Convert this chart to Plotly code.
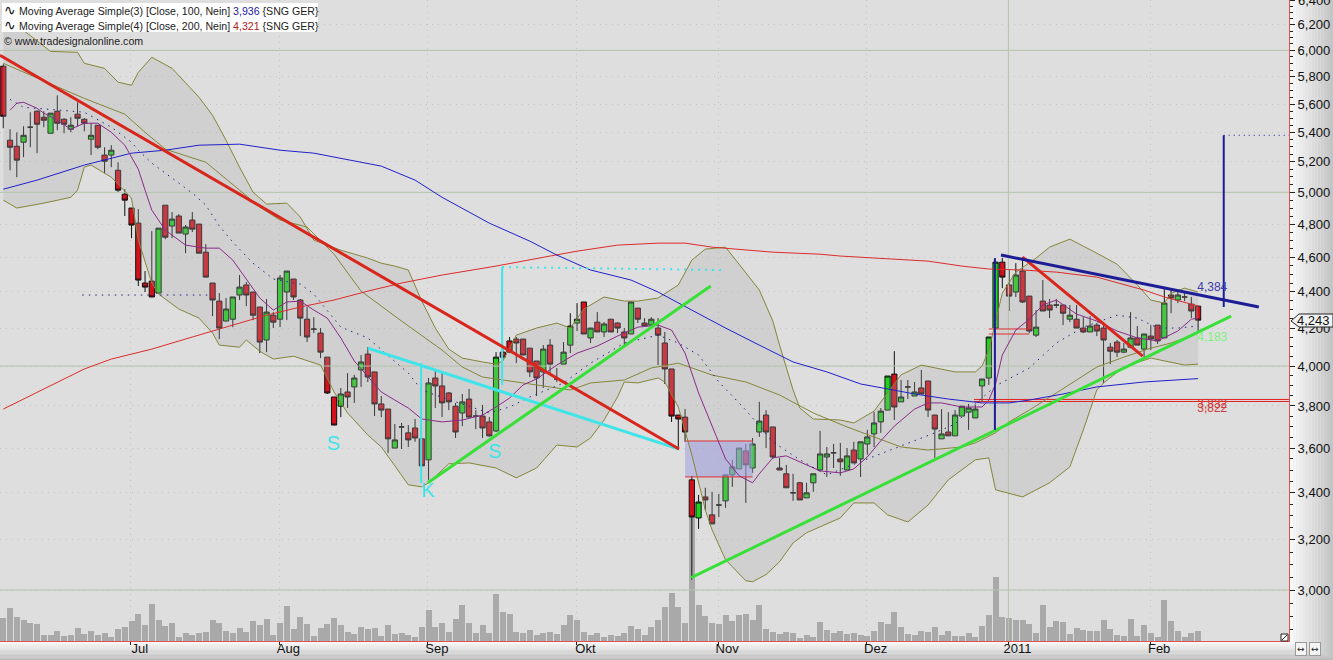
import plotly.graph_objects as go

# candles, one per trading day (SNG GER, Jun 2010 - Feb 2011)
open_prices = [
    5879, 5346, 5305, 5332, 5436, 5549, 5506, 5394, 5549, 5492,
    5422, 5528, 5492, 5353, 5450, 5245, 5245, 5144, 4988, 4900,
    4806, 4450, 4461, 4393, 4918, 4788, 4850, 4739, 4825, 4800,
    4630, 4450, 4348, 4238, 4248, 4382, 4439, 4399, 4315, 4136,
    4270, 4248, 4399, 4473, 4354, 4248, 4194, 4173, 4046, 3844,
    3799, 3869, 3894, 3980, 4062, 3970, 3810, 3785, 3600, 3699,
    3671, 3694, 3643, 3546, 3939, 3899, 3864, 3799, 3766, 3834,
    3751, 3751, 3723, 3680, 4072, 4131, 4141, 4141, 4093, 4026,
    3970, 4109, 3934, 4010, 4109, 4227, 4343, 4147, 4232, 4179,
    4248, 4227, 4179, 4168, 4309, 4227, 4216, 4200, 4120, 3985,
    3756, 3746, 3456, 3291, 3381, 3304, 3346, 3364, 3478, 3505,
    3587, 3509, 3675, 3756, 3699, 3509, 3483, 3399, 3443, 3377,
    3443, 3500, 3559, 3578, 3550, 3500, 3591, 3550, 3619, 3666,
    3723, 3780, 3959, 3820, 3894, 3849, 3889, 3924, 3756, 3643,
    3675, 3657, 3751, 3770, 3742, 3899, 3939, 4200, 4571, 4439,
    4399, 4519, 4376, 4162, 4348, 4326, 4326, 4326, 4248, 4248,
    4200, 4179, 4216, 4200, 4098, 4125, 4072, 4098, 4147, 4088,
    4157, 4216, 4147, 4382, 4354, 4371, 4331, 4320,
]
high_prices = [
    5894, 5422, 5401, 5443, 5542, 5556, 5549, 5535, 5663, 5499,
    5506, 5613, 5499, 5464, 5450, 5298, 5312, 5197, 5020, 4900,
    4893, 4519, 4757, 4775, 4918, 4875, 4862, 4794, 4875, 4800,
    4678, 4450, 4393, 4365, 4371, 4496, 4456, 4399, 4315, 4360,
    4287, 4496, 4519, 4473, 4360, 4315, 4259, 4200, 4046, 3844,
    3889, 3964, 3955, 4057, 4098, 3970, 3849, 3785, 3713, 3718,
    3708, 3737, 3643, 3939, 3975, 3964, 3869, 3815, 3859, 3884,
    3780, 3805, 3746, 4072, 4088, 4152, 4152, 4141, 4093, 4026,
    4109, 4141, 3990, 4125, 4281, 4337, 4343, 4200, 4287, 4232,
    4248, 4232, 4200, 4348, 4309, 4254, 4259, 4254, 4179, 3985,
    3756, 3785, 3474, 3390, 3421, 3403, 3394, 3478, 3546, 3600,
    3619, 3647, 3820, 3780, 3699, 3555, 3523, 3483, 3447, 3443,
    3483, 3680, 3605, 3619, 3624, 3600, 3629, 3629, 3685, 3770,
    3790, 3949, 4077, 3929, 3929, 3919, 3980, 3924, 3756, 3785,
    3770, 3780, 3799, 3810, 3805, 3934, 4152, 4577, 4595, 4525,
    4565, 4601, 4376, 4298, 4467, 4360, 4360, 4326, 4326, 4326,
    4259, 4265, 4227, 4227, 4120, 4136, 4120, 4287, 4211, 4168,
    4216, 4216, 4415, 4410, 4410, 4393, 4371, 4320,
]
low_prices = [
    5429, 5144, 5098, 5231, 5298, 5258, 5436, 5394, 5415, 5394,
    5401, 5443, 5408, 5245, 5285, 5124, 5164, 5001, 4850, 4714,
    4433, 4399, 4371, 4393, 4708, 4714, 4745, 4624, 4751, 4624,
    4484, 4265, 4141, 4238, 4205, 4354, 4320, 4243, 4067, 4072,
    4200, 4205, 4243, 4354, 4157, 4125, 4173, 4041, 3859, 3708,
    3746, 3790, 3815, 3894, 3919, 3751, 3746, 3578, 3600, 3596,
    3605, 3629, 3519, 3456, 3790, 3746, 3780, 3647, 3703, 3742,
    3689, 3647, 3652, 3675, 4031, 4067, 4015, 4057, 3944, 3849,
    3889, 3959, 3919, 4010, 4067, 4184, 4168, 4120, 4179, 4152,
    4179, 4173, 4109, 4168, 4227, 4211, 4216, 4005, 3909, 3723,
    3591, 3629, 3040, 3245, 3325, 3266, 3295, 3334, 3425, 3505,
    3355, 3487, 3652, 3600, 3550, 3500, 3421, 3364, 3368, 3377,
    3403, 3492, 3469, 3509, 3474, 3500, 3532, 3469, 3569, 3605,
    3671, 3780, 3732, 3820, 3834, 3849, 3859, 3746, 3555, 3643,
    3657, 3657, 3751, 3685, 3742, 3820, 3904, 4200, 4421, 4293,
    4371, 4337, 4173, 4152, 4293, 4254, 4309, 4216, 4232, 4200,
    4173, 4179, 4157, 3914, 4010, 4046, 4067, 4093, 4109, 4046,
    4083, 4115, 4147, 4281, 4337, 4348, 4254, 4179,
]
close_prices = [
    5513, 5298, 5211, 5380, 5436, 5457, 5485, 5535, 5464, 5457,
    5450, 5499, 5464, 5380, 5298, 5204, 5278, 5014, 4950, 4794,
    4467, 4427, 4371, 4775, 4720, 4831, 4745, 4782, 4769, 4624,
    4484, 4354, 4200, 4304, 4371, 4427, 4382, 4270, 4125, 4287,
    4232, 4479, 4519, 4371, 4254, 4152, 4194, 4072, 3864, 3708,
    3859, 3844, 3939, 4021, 3944, 3810, 3780, 3643, 3638, 3699,
    3638, 3647, 3519, 3914, 3899, 3815, 3820, 3675, 3820, 3746,
    3751, 3694, 3657, 4046, 4046, 4072, 4120, 4057, 3970, 3939,
    4088, 4010, 3934, 4072, 4211, 4248, 4168, 4200, 4179, 4222,
    4179, 4200, 4147, 4343, 4248, 4211, 4248, 4162, 3985, 3751,
    3737, 3675, 3295, 3359, 3368, 3266, 3346, 3478, 3514, 3600,
    3523, 3619, 3727, 3675, 3559, 3500, 3421, 3399, 3368, 3399,
    3483, 3573, 3573, 3578, 3537, 3564, 3532, 3629, 3652, 3718,
    3775, 3949, 3795, 3844, 3894, 3869, 3859, 3780, 3689, 3666,
    3657, 3756, 3799, 3790, 3785, 3934, 4152, 4571, 4484, 4376,
    4496, 4343, 4184, 4205, 4293, 4298, 4326, 4281, 4270, 4200,
    4179, 4211, 4184, 4136, 4077, 4072, 4088, 4147, 4109, 4168,
    4141, 4131, 4337, 4365, 4382, 4371, 4293, 4243,
]
volume = [
    68, 98, 72, 62, 55, 51, 18, 18, 30, 15,
    17, 38, 20, 30, 17, 23, 12, 35, 42, 60,
    81, 48, 111, 62, 45, 54, 12, 24, 18, 23,
    27, 62, 54, 30, 24, 39, 27, 60, 48, 66,
    18, 54, 105, 36, 72, 51, 15, 39, 51, 69,
    48, 27, 21, 42, 36, 39, 15, 48, 21, 24,
    18, 12, 42, 93, 42, 54, 27, 66, 108, 54,
    24, 48, 24, 141, 87, 81, 27, 24, 33, 18,
    24, 27, 21, 48, 78, 63, 27, 18, 24, 12,
    18, 15, 24, 45, 36, 18, 42, 63, 102, 144,
    102, 54, 372, 108, 75, 54, 51, 78, 60, 78,
    81, 63, 108, 36, 27, 21, 27, 24, 9, 18,
    12, 57, 33, 24, 30, 21, 24, 18, 15, 30,
    57, 51, 87, 42, 21, 18, 30, 27, 42, 18,
    30, 15, 15, 24, 12, 45, 78, 192, 72, 69,
    63, 63, 51, 24, 108, 42, 60, 57, 21, 39,
    33, 30, 30, 63, 36, 18, 15, 66, 15, 48,
    24, 12, 123, 60, 30, 12, 24, 30,
]
candle_index = list(range(len(close_prices)))

# moving averages at the listed candles
ma200_index = [0, 12, 16, 22, 28, 34, 39, 44, 49, 54, 59, 65, 73, 81, 85, 91, 97, 101, 105, 114, 121, 124, 131, 137, 142, 146, 151, 156, 162, 166, 169, 172, 177]
ma200_value = [3785, 3985, 4036, 4088, 4152, 4216, 4270, 4315, 4354, 4404, 4450, 4496, 4548, 4607, 4636, 4672, 4684, 4684, 4660, 4630, 4618, 4607, 4589, 4577, 4548, 4531, 4525, 4513, 4484, 4444, 4410, 4371, 4321]

ma100_index = [0, 5, 12, 19, 24, 29, 35, 41, 46, 56, 61, 65, 72, 78, 82, 87, 93, 97, 102, 107, 112, 117, 122, 127, 131, 135, 140, 145, 149, 152, 157, 162, 169, 177]
ma100_value = [5020, 5079, 5178, 5258, 5278, 5312, 5319, 5278, 5258, 5171, 5079, 4968, 4806, 4696, 4613, 4525, 4467, 4399, 4298, 4200, 4109, 4021, 3970, 3909, 3884, 3859, 3834, 3815, 3815, 3829, 3859, 3894, 3919, 3936]

ma20_index = [1, 2, 3, 5, 6, 8, 10, 12, 14, 16, 18, 20, 21, 22, 24, 27, 30, 32, 34, 36, 38, 40, 42, 44, 46, 48, 50, 52, 54, 56, 58, 60, 62, 65, 68, 71, 73, 75, 77, 79, 82, 85, 88, 91, 94, 97, 99, 101, 103, 105, 107, 109, 111, 112, 114, 116, 119, 121, 124, 126, 128, 130, 132, 135, 137, 139, 142, 145, 146, 147, 148, 150, 152, 154, 156, 159, 162, 165, 168, 171, 174, 176, 177]
ma20_value = [5556, 5606, 5613, 5570, 5535, 5485, 5422, 5464, 5464, 5401, 5312, 5151, 5014, 4887, 4763, 4672, 4654, 4654, 4583, 4473, 4365, 4298, 4343, 4348, 4298, 4254, 4147, 4026, 3944, 3869, 3829, 3790, 3737, 3723, 3732, 3756, 3795, 3839, 3904, 3934, 4005, 4067, 4104, 4157, 4205, 4216, 4189, 4067, 3864, 3703, 3550, 3474, 3443, 3483, 3555, 3564, 3523, 3496, 3487, 3505, 3559, 3634, 3703, 3785, 3815, 3815, 3795, 3795, 3829, 3909, 4057, 4189, 4248, 4326, 4354, 4276, 4238, 4184, 4147, 4131, 4184, 4248, 4254]

ma50_index = [1, 3, 12, 16, 19, 20, 22, 25, 28, 30, 32, 34, 37, 40, 44, 46, 48, 50, 54, 57, 60, 62, 64, 72, 75, 78, 83, 87, 92, 97, 100, 103, 106, 110, 114, 118, 122, 128, 133, 138, 141, 143, 147, 152, 156, 160, 165, 168, 171, 174, 177]
ma50_value = [5634, 5577, 5542, 5436, 5332, 5278, 5191, 5092, 4995, 4918, 4788, 4690, 4565, 4473, 4444, 4387, 4298, 4205, 4147, 4057, 3964, 3879, 3854, 3766, 3795, 3844, 3914, 4015, 4120, 4162, 4120, 4057, 3919, 3780, 3629, 3546, 3478, 3550, 3610, 3671, 3713, 3780, 3899, 3990, 4120, 4205, 4270, 4254, 4200, 4200, 4211]

# bollinger band
upper_index = [0, 3, 4, 7, 11, 12, 15, 17, 19, 20, 22, 25, 29, 31, 33, 35, 37, 39, 42, 44, 46, 50, 54, 56, 58, 60, 62, 64, 66, 68, 71, 73, 74, 76, 79, 82, 84, 86, 89, 92, 94, 97, 100, 102, 104, 107, 109, 112, 114, 115, 117, 118, 120, 124, 126, 129, 131, 133, 136, 138, 141, 144, 145, 146, 147, 148, 150, 153, 155, 158, 162, 165, 168, 170, 172, 173, 175, 177]
upper_value = [6232, 6154, 6115, 5992, 5985, 5901, 5863, 5760, 5737, 5833, 5947, 5863, 5649, 5520, 5346, 5164, 5001, 4925, 4931, 4844, 4702, 4642, 4595, 4565, 4548, 4525, 4348, 4200, 4088, 4041, 4021, 4010, 4026, 4162, 4200, 4227, 4200, 4304, 4371, 4348, 4348, 4365, 4439, 4583, 4648, 4660, 4559, 4410, 4238, 4109, 3879, 3790, 3737, 3732, 3718, 3775, 3864, 3955, 4005, 3990, 3970, 3970, 4000, 4083, 4227, 4393, 4513, 4595, 4660, 4708, 4624, 4559, 4439, 4354, 4337, 4393, 4421, 4399]

middle_index = [0, 5, 12, 18, 21, 24, 30, 35, 38, 41, 45, 49, 53, 59, 65, 68, 71, 74, 79, 84, 87, 92, 96, 100, 105, 110, 115, 120, 125, 130, 133, 137, 142, 144, 147, 149, 152, 156, 159, 162, 166, 170, 173, 177]
middle_value = [5901, 5789, 5641, 5528, 5401, 5285, 5197, 5014, 4906, 4825, 4782, 4618, 4404, 4238, 4083, 3995, 3944, 3929, 3904, 3879, 3914, 3929, 3990, 4015, 3954, 3919, 3854, 3766, 3699, 3638, 3605, 3591, 3605, 3624, 3671, 3723, 3780, 3864, 3929, 3995, 4046, 4093, 4120, 4173]

lower_index = [0, 2, 6, 10, 11, 12, 13, 16, 19, 20, 22, 23, 26, 29, 31, 32, 35, 36, 38, 40, 43, 46, 47, 49, 51, 54, 56, 58, 60, 62, 63, 66, 69, 73, 76, 79, 81, 82, 85, 87, 89, 91, 92, 94, 97, 98, 100, 102, 104, 105, 107, 110, 111, 113, 115, 117, 119, 124, 126, 129, 131, 134, 137, 140, 144, 146, 147, 151, 155, 158, 160, 162, 163, 166, 170, 175, 177]
lower_value = [4950, 4900, 4931, 4968, 5014, 5164, 5178, 5098, 4962, 4702, 4450, 4387, 4304, 4254, 4173, 4109, 4098, 4136, 4077, 4036, 4051, 4015, 4005, 3869, 3766, 3661, 3605, 3519, 3434, 3425, 3443, 3528, 3532, 3509, 3465, 3509, 3582, 3614, 3605, 3647, 3732, 3844, 3919, 3914, 3939, 3919, 3795, 3569, 3325, 3241, 3119, 3036, 3032, 3060, 3111, 3187, 3229, 3291, 3355, 3355, 3304, 3274, 3346, 3456, 3546, 3555, 3412, 3381, 3443, 3514, 3685, 3879, 3914, 3995, 4041, 4005, 4010]

# hand drawn trend lines: [start, end] in candle index and price
red_trend_x, red_trend_y = [-0.5, 100.1], [5962, 3596]
red_short_x, red_short_y = [151, 168.8], [4601, 4051]
cyan_trend_x, cyan_trend_y = [54, 100], [4093, 3596]
cyan_left_x, cyan_left_y = [61.9, 61.9], [4015, 3443]
cyan_right_x, cyan_right_y = [73.9, 73.9], [4542, 3904]
cyan_dot_x, cyan_dot_y = [73.9, 106.4], [4542, 4525]
green_upper_x, green_upper_y = [62.9, 104.8], [3443, 4433]
green_lower_x, green_lower_y = [101.9, 181.9], [3048, 4265]
navy_trend_x, navy_trend_y = [147.8, 186], [4613, 4315]
navy_left_x, navy_left_y = [146.9, 146.9], [4595, 3685]
navy_right_x, navy_right_y = [180.8, 180.8], [5380, 4315]
navy_dot_x, navy_dot_y = [180.8, 190.5], [5380, 5380]
dark_dot_x, dark_dot_y = [11.7, 30.4], [4382, 4382]
gap_x, gap_top, gap_bottom = [101, 111], 3633, 3469
gap2_x, gap2_top, gap2_bottom = [146, 152], 4195, 4168
support_x, support_levels = [143.8, 190.5], [3832, 3822]

# chart labels: text, candle index, price
letter_text = ["S", "S", "K"]
letter_x = [48.9, 72.8, 62.9]
letter_y = [3614, 3578, 3403]
value_text = ["4,384", "4,183", "3,832", "3,822"]
value_x = [179.1, 179.1, 179.1, 179.1]
value_y = [4421, 4147, 3805, 3785]
value_color = ["#3c3caa", "#7ff07f", "#d23c3c", "#d23c3c"]

# axes
price_ticks = [3000, 3200, 3400, 3600, 3800, 4000, 4200, 4400, 4600, 4800, 5000, 5200, 5400, 5600, 5800, 6000, 6200, 6400]
price_tick_text = ["3,000", "3,200", "3,400", "3,600", "3,800", "4,000", "4,200", "4,400", "4,600", "4,800", "5,000", "5,200", "5,400", "5,600", "5,800", "6,000", "6,200", "6,400"]
price_minor_ticks = [p for p in range(2850, 6400, 50) if p % 200 != 0]
price_major_lines = [3000, 4000, 5000, 6000]
month_ticks = [18.9, 40.9, 62.9, 84.9, 105.9, 127.9, 148.9, 169.9]
month_labels = ["Jul", "Aug", "Sep", "Okt", "Nov", "Dez", "2011", "Feb"]

WIDTH, HEIGHT = 1333, 660
PLOT_W, PLOT_H = 1289, 641
BG = "#dedede"
OLIVE = "#85853a"
RED = "#d8261c"
CYAN = "#3fe4e8"
GREEN = "#37e037"
NAVY = "#1c1c96"
FINE_DOT = "1px,5px"
AXIS_FONT = "Liberation Sans Narrow, Liberation Sans"


def px(x):
    return x / PLOT_W


def py(y):
    return 1 - y / PLOT_H


def line_trace(x, y, color, width=1, dash="solid"):
    return go.Scatter(
        x=x, y=y, yaxis="y2", mode="lines", hoverinfo="skip", showlegend=False,
        line=dict(color=color, width=width, dash=dash),
    )


fig = go.Figure()

fig.add_trace(go.Bar(
    x=candle_index, y=volume, width=0.88, marker=dict(color="#a9a9a9", line_width=0),
    showlegend=False, hoverinfo="skip",
))

# band fill behind the candles
fig.add_trace(go.Scatter(
    x=upper_index + lower_index[::-1], y=upper_value + lower_value[::-1], yaxis="y2",
    mode="none", fill="toself", fillcolor="rgba(170,170,170,0.27)",
    showlegend=False, hoverinfo="skip",
))

for level in price_major_lines:
    fig.add_trace(line_trace([-1, 191], [level, level], "#b4c4ac"))
fig.add_trace(line_trace([148.9, 148.9], [2800, 6500], "#b4c4ac"))

# gap boxes
fig.add_trace(go.Scatter(
    x=[gap_x[0], gap_x[1], gap_x[1], gap_x[0], gap_x[0]],
    y=[gap_top, gap_top, gap_bottom, gap_bottom, gap_top], yaxis="y2",
    mode="none", fill="toself", fillcolor="rgba(160,160,225,0.55)",
    showlegend=False, hoverinfo="skip",
))
for level in [gap_top, gap_bottom]:
    fig.add_trace(line_trace(gap_x, [level, level], "#e03030"))
for level in [gap2_top, gap2_bottom]:
    fig.add_trace(line_trace(gap2_x, [level, level], "#e03030"))
for level in support_levels:
    fig.add_trace(line_trace(support_x, [level, level], "#e02020"))

fig.add_trace(go.Candlestick(
    x=candle_index, open=open_prices, high=high_prices, low=low_prices, close=close_prices,
    yaxis="y2", whiskerwidth=0, showlegend=False, hoverinfo="skip",
    increasing=dict(fillcolor="#1ed21e", line=dict(color="#101010", width=1)),
    decreasing=dict(fillcolor="#d4101c", line=dict(color="#101010", width=1)),
))

fig.add_trace(line_trace(upper_index, upper_value, OLIVE))
fig.add_trace(line_trace(middle_index, middle_value, OLIVE))
fig.add_trace(line_trace(lower_index, lower_value, OLIVE))
fig.add_trace(line_trace(ma200_index, ma200_value, "#dc2c2c"))
fig.add_trace(line_trace(ma100_index, ma100_value, "#2020cc"))
fig.add_trace(line_trace(ma20_index, ma20_value, "#8a2a8a"))
fig.add_trace(line_trace(ma50_index, ma50_value, "#24248c", dash="1.5px,5px"))

fig.add_trace(line_trace(dark_dot_x, dark_dot_y, "#24248c", dash="1.5px,5px"))
fig.add_trace(line_trace(cyan_trend_x, cyan_trend_y, CYAN, 3))
fig.add_trace(line_trace(cyan_left_x, cyan_left_y, CYAN, 2))
fig.add_trace(line_trace(cyan_right_x, cyan_right_y, CYAN, 2))
fig.add_trace(line_trace(cyan_dot_x, cyan_dot_y, CYAN, 2, dash="2px,5px"))
fig.add_trace(line_trace(red_trend_x, red_trend_y, RED, 3))
fig.add_trace(line_trace(red_short_x, red_short_y, RED, 3))
fig.add_trace(line_trace(green_upper_x, green_upper_y, GREEN, 3))
fig.add_trace(line_trace(green_lower_x, green_lower_y, GREEN, 3))
fig.add_trace(line_trace(navy_trend_x, navy_trend_y, NAVY, 3))
fig.add_trace(line_trace(navy_left_x, navy_left_y, NAVY, 2))
fig.add_trace(line_trace(navy_right_x, navy_right_y, NAVY, 2))
fig.add_trace(line_trace(navy_dot_x, navy_dot_y, NAVY, 1, dash="1px,4px"))

fig.add_trace(go.Scatter(
    x=letter_x, y=letter_y, yaxis="y2", mode="text", text=letter_text,
    textfont=dict(family="Liberation Sans", size=20, color=CYAN),
    showlegend=False, hoverinfo="skip",
))
fig.add_trace(go.Scatter(
    x=value_x, y=value_y, yaxis="y2", mode="text", text=value_text,
    textfont=dict(family="Liberation Sans", size=12, color=value_color),
    showlegend=False, hoverinfo="skip",
))

fig.update_layout(
    width=WIDTH,
    height=HEIGHT,
    margin=dict(l=0, r=WIDTH - PLOT_W, t=0, b=HEIGHT - PLOT_H, autoexpand=False),
    plot_bgcolor=BG,
    paper_bgcolor="#f0f0f0",
    showlegend=False,
    bargap=0,
    boxgap=0.12,
    boxgroupgap=0.12,
    font=dict(family="Liberation Sans", size=12, color="#111111"),
)
fig.update_xaxes(
    range=[-0.489, 190.47],
    tickmode="array",
    tickvals=month_ticks,
    ticktext=month_labels,
    ticks="outside",
    ticklen=3,
    tickcolor="#222222",
    ticklabelshift=9,
    ticklabelstandoff=-8,
    showgrid=True,
    griddash=FINE_DOT,
    gridcolor="#c4c4c4",
    gridwidth=1,
    showline=True,
    linecolor="#e05050",
    linewidth=1,
    zeroline=False,
    rangeslider_visible=False,
    tickfont=dict(family=AXIS_FONT, size=13),
)
fig.update_layout(
    yaxis=dict(range=[0, 1923], visible=False, fixedrange=True),
    yaxis2=dict(
        type="log",
        overlaying="y",
        side="right",
        range=[3.44868, 3.80625],
        tickmode="array",
        tickvals=price_ticks,
        ticktext=price_tick_text,
        ticks="outside",
        ticklen=5,
        tickcolor="#222222",
        showgrid=True,
        griddash=FINE_DOT,
        gridcolor="#c4c4c4",
        gridwidth=1,
        zeroline=False,
        showline=True,
        linecolor="#e05050",
        linewidth=1,
        minor=dict(tickmode="array", tickvals=price_minor_ticks, ticks="outside", ticklen=3, tickcolor="#222222", showgrid=False),
        tickfont=dict(family=AXIS_FONT, size=13),
    ),
)

# window chrome: grey gradients on the axis strips, legend box, price flag
shapes = []
steps = 14
for i in range(steps):
    shade = 248 - i * 4
    shapes.append(dict(
        type="rect", xref="paper", yref="paper", layer="below", line_width=0,
        x0=px(1290 + i * 43 / steps), x1=px(1290 + (i + 1) * 43 / steps), y0=py(660), y1=py(0),
        fillcolor=f"rgb({shade},{shade},{shade})",
    ))
    shade = 250 - i * 5
    shapes.append(dict(
        type="rect", xref="paper", yref="paper", layer="below", line_width=0,
        x0=px(0), x1=px(1333), y0=py(642 + i * 18 / steps), y1=py(642 + (i + 1) * 18 / steps),
        fillcolor=f"rgb({shade},{shade},{shade})",
    ))
shapes.append(dict(
    type="rect", xref="paper", yref="paper", line_width=0, fillcolor="white",
    x0=px(2), x1=px(318), y0=py(32), y1=py(3),
))
shapes.append(dict(
    type="path", xref="paper", yref="paper", fillcolor="#f2f2f2",
    line=dict(color="#222222", width=1),
    path=(
        f"M {px(1291)},{py(321)} L {px(1299)},{py(314)} L {px(1333)},{py(314)} "
        f"L {px(1333)},{py(327)} L {px(1299)},{py(327)} Z"
    ),
))
shapes.append(dict(
    type="rect", xref="paper", yref="paper", fillcolor="white",
    line=dict(color="#222222", width=1),
    x0=px(1281), x1=px(1288), y0=py(641), y1=py(634),
))
shapes.append(dict(
    type="line", xref="paper", yref="paper", line=dict(color="#222222", width=1),
    x0=px(1282), x1=px(1287), y0=py(640), y1=py(635),
))
fig.update_layout(shapes=shapes)


def note(x, y, text, **kwargs):
    fig.add_annotation(
        xref="paper", yref="paper", x=px(x), y=py(y), text=text, showarrow=False,
        xanchor=kwargs.pop("xanchor", "left"), yanchor="middle", **kwargs,
    )


legend_font = dict(family="Liberation Sans", size=10.6, color="#222222")
icon = "<span style='font-size:14px'>∿</span>"
note(2, 10, icon + " Moving Average Simple(3) [Close, 100, Nein] <span style='color:#2020a0'>3,936</span> {SNG GER}", font=legend_font)
note(2, 24.5, icon + " Moving Average Simple(4) [Close, 200, Nein] <span style='color:#b02020'>4,321</span> {SNG GER}", font=legend_font)
note(2, 41, "© www.tradesignalonline.com", font=legend_font)
note(1313, 320.5, "4,243", xanchor="center", font=dict(family=AXIS_FONT, size=13, color="#111111"))
# the top tick label sits on the window edge; the axis drops it, so it goes in by hand
note(1314, 1, "6,400", xanchor="center", font=dict(family=AXIS_FONT, size=13, color="#111111"))
note(1301, 649, "↔", xanchor="center", font=dict(family="DejaVu Sans", size=9, color="#222222"), bgcolor="#f4f4f4", bordercolor="#999999", borderwidth=1, borderpad=1)
note(1315, 649, "↔", xanchor="center", font=dict(family="DejaVu Sans", size=9, color="#222222"), bgcolor="#f4f4f4", bordercolor="#999999", borderwidth=1, borderpad=1)

fig.write_html(
    "out.html",
    config={"displayModeBar": False},
    post_script="document.body.style.margin='0';document.body.style.overflow='hidden';",
)
